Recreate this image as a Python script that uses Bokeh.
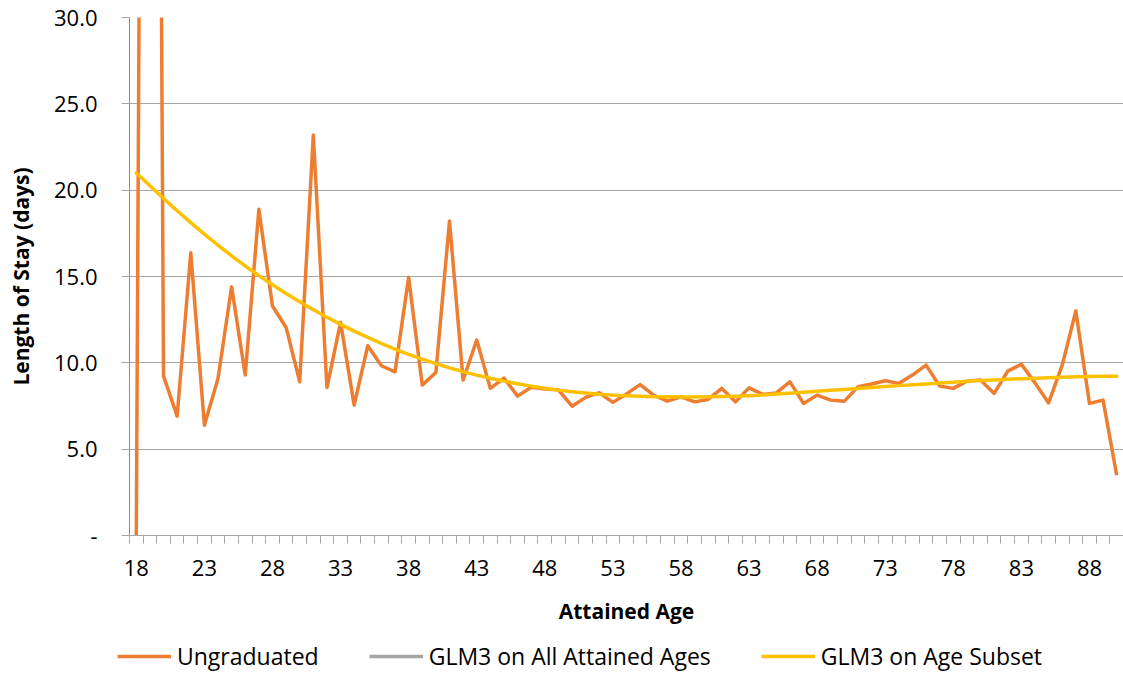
from bokeh.plotting import figure
from bokeh.layouts import column
from bokeh.models import (ColumnDataSource, FixedTicker, Range1d, Legend, LegendItem)
from bokeh.embed import file_html
from bokeh.resources import INLINE

# ---- data ----
ages = list(range(18, 91))
ungraduated = [0.0, 150.0, 9.23, 6.91, 16.37, 6.39, 9.09, 14.40, 9.29, 18.89,
               13.29, 12.05, 8.90, 23.19, 8.57, 12.34, 7.55, 10.99, 9.83, 9.48,
               14.95, 8.71, 9.44, 18.21, 9.00, 11.32, 8.52, 9.12, 8.07, 8.59,
               8.49, 8.44, 7.49, 8.00, 8.27, 7.71, 8.20, 8.74, 8.13, 7.78,
               8.03, 7.74, 7.88, 8.52, 7.74, 8.55, 8.17, 8.26, 8.90, 7.65,
               8.13, 7.84, 7.78, 8.61, 8.77, 8.96, 8.81, 9.29, 9.87, 8.65,
               8.52, 8.94, 9.00, 8.23, 9.52, 9.92, 8.84, 7.68, 9.87, 13.00,
               7.65, 7.84, 3.49]
glm3_subset = [21.00, 20.25, 19.52, 18.81, 18.12, 17.45, 16.81, 16.20, 15.61, 15.05,
               14.52, 14.02, 13.54, 13.08, 12.64, 12.23, 11.84, 11.47, 11.12, 10.79,
               10.49, 10.21, 9.95, 9.71, 9.49, 9.29, 9.11, 8.94, 8.79, 8.65,
               8.53, 8.42, 8.33, 8.25, 8.18, 8.13, 8.09, 8.06, 8.04, 8.03,
               8.02, 8.02, 8.03, 8.05, 8.07, 8.10, 8.14, 8.19, 8.24, 8.29,
               8.35, 8.41, 8.46, 8.52, 8.57, 8.63, 8.68, 8.73, 8.78, 8.83,
               8.88, 8.93, 8.97, 9.01, 9.05, 9.08, 9.11, 9.14, 9.17, 9.19,
               9.21, 9.22, 9.23]
glm3_all_ages = []   # series not visible in the chart (legend only)
glm3_all_x = []

x_tick_labels = [18, 23, 28, 33, 38, 43, 48, 53, 58, 63, 68, 73, 78, 83, 88]
y_ticks = [0, 5, 10, 15, 20, 25, 30]
y_tick_labels = ["-", "5.0", "10.0", "15.0", "20.0", "25.0", "30.0"]

series_names = ["Ungraduated", "GLM3 on All Attained Ages", "GLM3 on Age Subset"]
colors = ["#ED7D31", "#A5A5A5", "#FFC000"]

FONT = "Open Sans"
GRID = "#A6A6A6"
LW = 3.5

p = figure(width=1123, height=640, output_backend="svg", toolbar_location=None,
           x_range=Range1d(17.5, 90.5), y_range=Range1d(0, 30),
           min_border_left=129, min_border_right=0, min_border_top=17,
           min_border_bottom=105)
p.outline_line_color = None

src_u = ColumnDataSource(dict(x=ages, y=ungraduated))
src_s = ColumnDataSource(dict(x=ages, y=glm3_subset))
src_a = ColumnDataSource(dict(x=glm3_all_x, y=glm3_all_ages))

p.line("x", "y", source=src_a, color=colors[1], line_width=LW)
p.line("x", "y", source=src_u, color=colors[0], line_width=LW, line_join="round")
p.line("x", "y", source=src_s, color=colors[2], line_width=LW,
       line_join="round", line_cap="round")

# x axis
p.xaxis.ticker = FixedTicker(ticks=x_tick_labels,
                             minor_ticks=[a - 0.5 for a in ages] + [ages[-1] + 0.5])
p.xaxis.major_tick_line_color = None
p.xaxis.major_tick_out = 8
p.xaxis.major_tick_in = 0
p.xaxis.minor_tick_line_color = GRID
p.xaxis.minor_tick_out = 8
p.xaxis.minor_tick_in = 0
p.xaxis.axis_line_color = GRID
p.xaxis.major_label_standoff = 16
p.xaxis.major_label_text_font = FONT
p.xaxis.major_label_text_font_size = "22px"
p.xaxis.major_label_text_color = "black"
p.xaxis.axis_label = "Attained Age"
p.xaxis.axis_label_text_font = FONT
p.xaxis.axis_label_text_font_style = "bold"
p.xaxis.axis_label_text_font_size = "21px"
p.xaxis.axis_label_text_color = "black"
p.xaxis.axis_label_standoff = 18

# y axis
p.yaxis.ticker = FixedTicker(ticks=y_ticks, minor_ticks=[])
p.yaxis.major_label_overrides = {t: lab for t, lab in zip(y_ticks, y_tick_labels)}
p.yaxis.major_tick_line_color = GRID
p.yaxis.major_tick_out = 8
p.yaxis.major_tick_in = 0
p.yaxis.minor_tick_line_color = None
p.yaxis.axis_line_color = "#8C8C8C"
p.yaxis.major_label_standoff = 24
p.yaxis.major_label_text_font = FONT
p.yaxis.major_label_text_font_size = "22px"
p.yaxis.major_label_text_color = "black"
p.yaxis.axis_label = "Length of Stay (days)"
p.yaxis.axis_label_text_font = FONT
p.yaxis.axis_label_text_font_style = "bold"
p.yaxis.axis_label_text_font_size = "21px"
p.yaxis.axis_label_text_color = "black"
p.yaxis.axis_label_standoff = 16

p.xgrid.grid_line_color = None
p.ygrid.ticker = FixedTicker(ticks=y_ticks)
p.ygrid.grid_line_color = GRID
p.ygrid.grid_line_width = 1

# ---- legend strip under the chart ----
lg = figure(width=1123, height=35, output_backend="svg", toolbar_location=None,
            x_range=Range1d(0, 1), y_range=Range1d(0, 1),
            min_border_left=0, min_border_right=0, min_border_top=0,
            min_border_bottom=0,
            x_axis_location=None, y_axis_location=None)
lg.frame_align = False
lg.outline_line_color = None
lg.grid.visible = False
items = []
for name, col in zip(series_names, colors):
    # legend-only glyph (no visible data in this strip)
    r = lg.line(x=[float("nan")], y=[float("nan")], color=col, line_width=LW)
    items.append(LegendItem(label=name, renderers=[r]))
legend = Legend(items=items, orientation="horizontal", location=(117, 3),
                padding=0, margin=0, spacing=50, glyph_width=54, glyph_height=30,
                label_height=30, label_standoff=6, border_line_color=None,
                background_fill_alpha=0,
                label_text_font=FONT, label_text_font_size="23px",
                label_text_color="black")
lg.add_layout(legend, "center")

layout = column(p, lg, spacing=0)
open("out.html", "w").write(file_html(layout, INLINE))
